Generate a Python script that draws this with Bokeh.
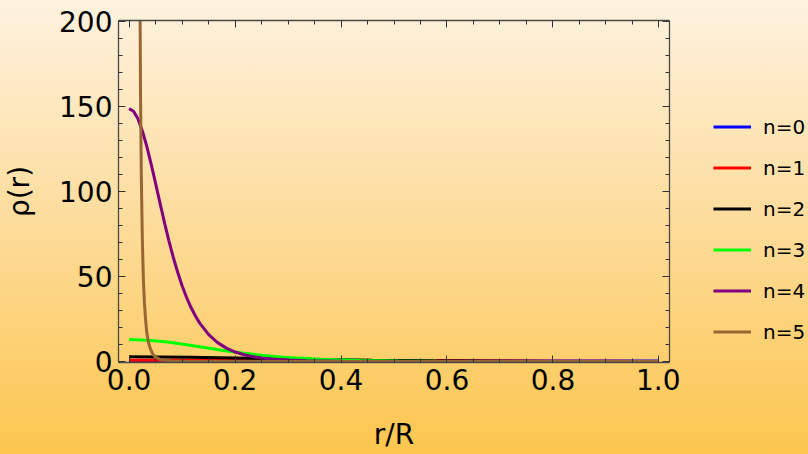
from bokeh.plotting import figure
from bokeh.layouts import row
from bokeh.models import (Range1d, LinearAxis, SingleIntervalTicker, Legend, LegendItem,
                          NumeralTickFormatter)
from bokeh.embed import file_html
from bokeh.resources import INLINE

# ---- data ----
r_n0 = [0.0, 0.5, 1.0]
rho_n0 = [0.2387, 0.2387, 0.2387]

r_n1 = [0.0, 0.1, 0.2, 0.3, 0.4, 0.5, 0.6, 0.7, 0.8, 0.9, 1.0]
rho_n1 = [0.785, 0.772, 0.734, 0.674, 0.594, 0.500, 0.396, 0.289, 0.184, 0.086, 0.0]

r_n2 = [0.0, 0.1149, 0.2297, 0.3446, 0.4595, 0.5743, 0.6892, 0.8041, 0.9189, 1.0]
rho_n2 = [2.72, 2.503, 1.959, 1.315, 0.763, 0.383, 0.159, 0.049, 0.0064, 0.0]

r_n3 = [0.0, 0.0362, 0.0725, 0.1087, 0.145, 0.1812, 0.2175, 0.2537, 0.29, 0.3625,
        0.435, 0.5075, 0.58, 0.725, 0.87, 1.0]
rho_n3 = [12.93, 12.53, 11.43, 9.86, 8.08, 6.35, 4.81, 3.53, 2.56, 1.27,
          0.60, 0.27, 0.12, 0.018, 0.001, 0.0]

r_n4 = [0.0, 0.00835, 0.0167, 0.02505, 0.0334, 0.04175, 0.0501, 0.05845, 0.0668, 0.07514,
        0.0835, 0.09184, 0.1002, 0.10854, 0.1169, 0.12524, 0.1336, 0.1503, 0.1670, 0.1837,
        0.2004, 0.2171, 0.2338, 0.2505, 0.2672, 0.3006, 0.3340, 0.4008, 0.4676, 0.6011, 1.0]
rho_n4 = [148.6, 147.06, 142.6, 135.5, 126.4, 115.8, 104.5, 92.9, 81.6, 70.9,
          61.1, 52.3, 44.4, 37.6, 31.7, 26.7, 22.4, 15.75, 11.09, 7.84,
          5.57, 3.97, 2.87, 2.08, 1.52, 0.82, 0.46, 0.14, 0.04, 0.004, 0.0]

r_n5 = [0.0185, 0.0195, 0.0205, 0.0215, 0.023, 0.025, 0.027, 0.029, 0.031, 0.033,
        0.036, 0.040, 0.045, 0.050, 0.060, 0.080, 0.100, 0.200, 1.0]
rho_n5 = [400, 300, 220, 160, 110, 72, 48, 34, 25, 18,
          12, 7.5, 4.2, 2.5, 1.0, 0.3, 0.1, 0.005, 0.0]

labels = ["n=0", "n=1", "n=2", "n=3", "n=4", "n=5"]
colors = ["#0000FF", "#FF0000", "#000000", "#00FF00", "#800080", "#996633"]
xs = [r_n0, r_n1, r_n2, r_n3, r_n4, r_n5]
ys = [rho_n0, rho_n1, rho_n2, rho_n3, rho_n4, rho_n5]

FONT = "DejaVu Sans"

p = figure(width=680, height=454,
           x_range=Range1d(-0.02, 1.02), y_range=Range1d(-0.6, 200.4),
           output_backend="svg", toolbar_location=None,
           x_axis_type=None, y_axis_type=None,
           min_border_left=117, min_border_right=11,
           min_border_top=20, min_border_bottom=92)
p.grid.visible = False
p.background_fill_alpha = 0
p.border_fill_alpha = 0
p.outline_line_color = None


def make_axis(interval, minor, show):
    ax = LinearAxis(ticker=SingleIntervalTicker(interval=interval, num_minor_ticks=minor))
    ax.axis_line_color = "#4a4a4a"
    ax.axis_line_width = 1.3
    ax.major_tick_in = 7
    ax.major_tick_out = 0
    ax.minor_tick_in = 4
    ax.minor_tick_out = 0
    ax.major_tick_line_color = "#333333"
    ax.minor_tick_line_color = "#333333"
    if show:
        ax.major_label_text_font = FONT
        ax.major_label_text_font_size = "28px"
        ax.major_label_text_color = "black"
        ax.major_label_standoff = 6
        ax.axis_label_text_font = FONT
        ax.axis_label_text_font_size = "28px"
        ax.axis_label_text_font_style = "normal"
        ax.axis_label_text_color = "black"
    else:
        ax.major_label_text_font_size = "0px"
        ax.major_label_text_color = None
        ax.major_label_standoff = 0
    return ax


xb = make_axis(0.2, 4, True)
xb.formatter = NumeralTickFormatter(format="0.0")
xb.axis_label = "r/R"
xb.axis_label_standoff = 25
yl = make_axis(50, 5, True)
yl.axis_label = "ρ(r)"
yl.axis_label_standoff = 20
xt = make_axis(0.2, 4, False)
yr = make_axis(50, 5, False)
p.add_layout(xb, "below")
p.add_layout(yl, "left")
p.add_layout(xt, "above")
p.add_layout(yr, "right")

for x, y, c in zip(xs, ys, colors):
    p.line(x, y, line_color=c, line_width=3)

# legend panel to the right of the plot (its frame is aligned with the plot frame)
lg = figure(width=128, height=454, x_range=Range1d(0, 1), y_range=Range1d(0, 1),
            output_backend="svg", toolbar_location=None,
            x_axis_type=None, y_axis_type=None, min_border=0)
lg.grid.visible = False
lg.background_fill_alpha = 0
lg.border_fill_alpha = 0
lg.outline_line_color = None

nan = float("nan")
items = []
for c, lab in zip(colors, labels):
    rr = lg.line(x=[nan], y=[nan], line_color=c, line_width=3)
    items.append(LegendItem(label=lab, renderers=[rr]))

legend = Legend(items=items, location=(33, 18),
                glyph_width=38, glyph_height=25, label_height=25,
                label_standoff=12, spacing=16, padding=0, margin=0,
                border_line_alpha=0, background_fill_alpha=0,
                label_text_font=FONT, label_text_font_size="20px",
                label_text_color="black")
lg.add_layout(legend)

layout = row(p, lg, spacing=0)
layout.styles = {"position": "absolute", "left": "0px", "top": "0px",
                 "background": "linear-gradient(180deg, #FEF2DF 0%, #FDDC9A 50%, #FCC64E 100%)"}

open("out.html", "w").write(file_html(layout, INLINE, title="rho(r)"))
